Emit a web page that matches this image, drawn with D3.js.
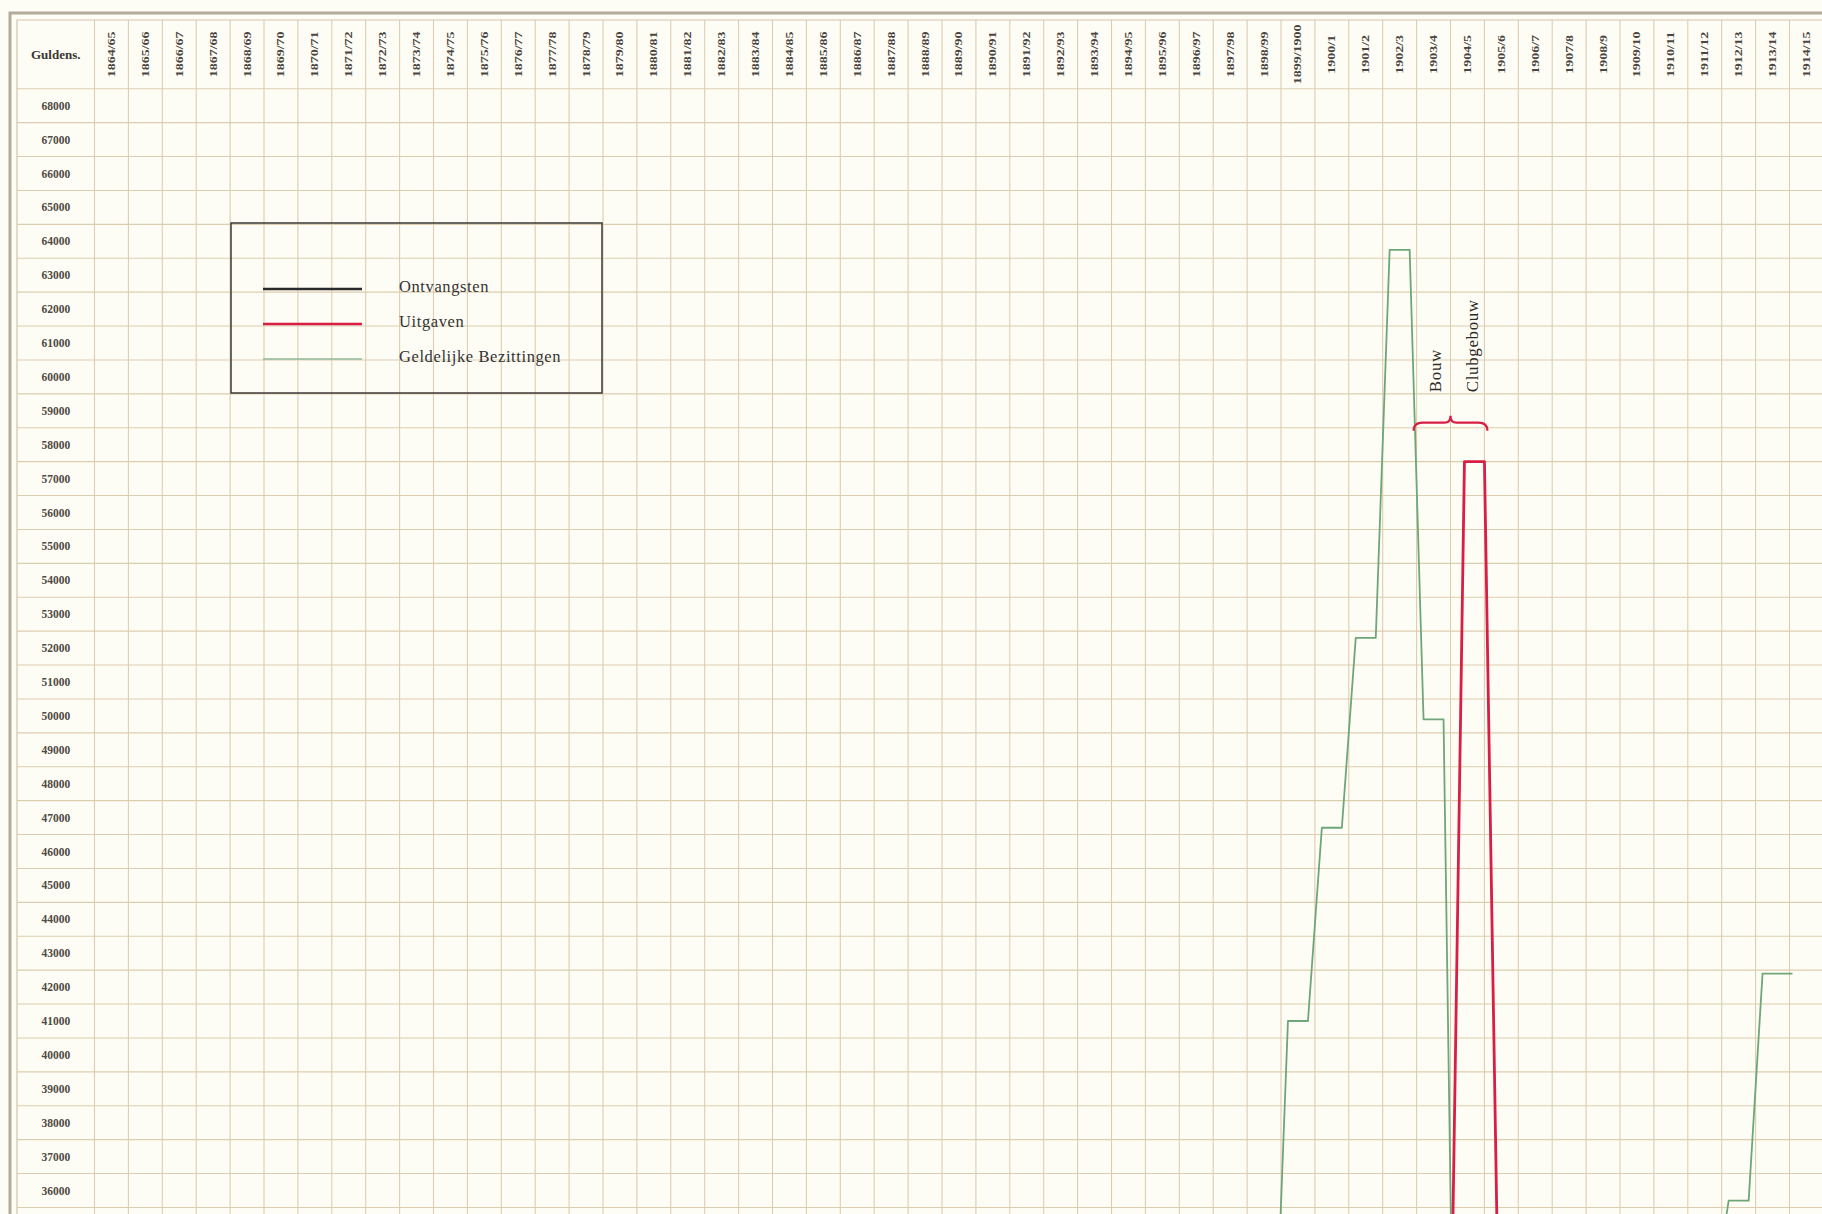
<!DOCTYPE html>
<html>
<head>
<meta charset="utf-8">
<script src="https://cdn.jsdelivr.net/npm/d3@7/dist/d3.min.js"></script>
<style>
	body { margin: 0; background: #fefdf5; }
	.chart svg { display: block; }
</style>
</head>
<body>
<div class="chart"></div>
<script>
// seasons across the top of the sheet
const seasons = [
	'1864/65','1865/66','1866/67','1867/68','1868/69','1869/70','1870/71','1871/72','1872/73','1873/74',
	'1874/75','1875/76','1876/77','1877/78','1878/79','1879/80','1880/81','1881/82','1882/83','1883/84',
	'1884/85','1885/86','1886/87','1887/88','1888/89','1889/90','1890/91','1891/92','1892/93','1893/94',
	'1894/95','1895/96','1896/97','1897/98','1898/99','1899/1900','1900/1','1901/2','1902/3','1903/4',
	'1904/5','1905/6','1906/7','1907/8','1908/9','1909/10','1910/11','1911/12','1912/13','1913/14',
	'1914/15'];

// guilder rows down the left side
const guldenTicks = [68000,67000,66000,65000,64000,63000,62000,61000,60000,59000,58000,57000,56000,
	55000,54000,53000,52000,51000,50000,49000,48000,47000,46000,45000,44000,43000,42000,41000,40000,
	39000,38000,37000,36000];

// tick labels as printed on the sheet
const guldenLabels = ['68000','67000','66000','65000','64000','63000','62000','61000','60000','59000',
	'58000','57000','56000','55000','54000','53000','52000','51000','50000','49000','48000','47000',
	'46000','45000','44000','43000','42000','41000','40000','39000','38000','37000','36000'];

// Ontvangsten: no part of this line reaches the visible part of the sheet
const ontvangsten = [];

// Uitgaven per season (null = not on this part of the sheet)
const uitgaven = [
	null,null,null,null,null,null,null,null,null,null,
	null,null,null,null,null,null,null,null,null,null,
	null,null,null,null,null,null,null,null,null,null,
	null,null,null,null,null,null,null,null,null,30500,
	57500,32500,null,null,null,null,null,null,null,null,
	null];

// Geldelijke Bezittingen per season
const bezittingen = [
	null,null,null,null,null,null,null,null,null,null,
	null,null,null,null,null,null,null,null,null,null,
	null,null,null,null,null,null,null,null,null,null,
	null,null,null,null,30200,41000,46700,52300,63750,49900,
	22000,null,null,null,null,null,null,33000,35700,42400,
	null];

const legendItems = ['Ontvangsten','Uitgaven','Geldelijke Bezittingen'];
const legendColors = ['#2a2a2a','#d81e45','#8fb898'];

const width = 1822;
const height = 1214;
const left = 94.5;		// edge between label column and plot
const cell = 33.9;

const svg = d3.select('.chart')
	.append('svg')
	.attr('width', width)
	.attr('height', height)
	.style('background', '#fefdf5');

const xScale = d3.scaleBand()
	.domain(seasons)
	.range([left, left + seasons.length*cell])
	.padding(0);

const yScale = d3.scaleLinear()
	.domain([68000, 36000])
	.range([105.7, 1190.5]);

const gridColor = '#dccdb0';
const headTop = 20;
const headBottom = yScale(68500);

//Grid: horizontal row edges (rows are centred on the labels)
const rowEdges = guldenTicks.map(d => d + 500).concat([35500, 34500]);
svg.append('g')
	.selectAll('line')
	.data(rowEdges)
	.enter()
	.append('line')
	.attr('x1', 17)
	.attr('x2', width)
	.attr('y1', d => yScale(d))
	.attr('y2', d => yScale(d))
	.attr('stroke', gridColor)
	.attr('stroke-width', 1.1);

//Grid: vertical column edges
const colEdges = seasons.map(d => xScale(d)).concat([xScale(seasons[seasons.length-1]) + xScale.bandwidth()]);
svg.append('g')
	.selectAll('line')
	.data(colEdges)
	.enter()
	.append('line')
	.attr('x1', d => d)
	.attr('x2', d => d)
	.attr('y1', headTop)
	.attr('y2', height)
	.attr('stroke', gridColor)
	.attr('stroke-width', 1.1);

//Frame
svg.append('path')
	.attr('d', `M10,${height}V13H${width}`)
	.attr('fill', 'none')
	.attr('stroke', '#b3aa99')
	.attr('stroke-width', 3);
svg.append('path')
	.attr('d', `M17,${height}V${headTop}H${width}`)
	.attr('fill', 'none')
	.attr('stroke', '#cfc5b2')
	.attr('stroke-width', 1.2);

//Header
svg.append('text')
	.attr('x', (17 + left)/2)
	.attr('y', (headTop + headBottom)/2)
	.attr('dy', '0.35em')
	.attr('text-anchor', 'middle')
	.attr('font-family', 'Liberation Serif, serif')
	.attr('font-weight', 'bold')
	.attr('font-size', '13px')
	.attr('fill', '#3b3631')
	.text('Guldens.');

svg.append('g')
	.selectAll('text')
	.data(seasons)
	.enter()
	.append('text')
	.attr('transform', d => `translate(${xScale(d) + xScale.bandwidth()/2},${(headTop + headBottom)/2}) rotate(-90) scale(1.4,1)`)
	.attr('dy', '0.35em')
	.attr('text-anchor', 'middle')
	.attr('font-family', 'Liberation Serif, serif')
	.attr('font-weight', 'bold')
	.attr('font-size', '10px')
	.attr('fill', '#4a4540')
	.text(d => d);

//Y labels
svg.append('g')
	.selectAll('text')
	.data(guldenTicks)
	.enter()
	.append('text')
	.attr('x', (17 + left)/2)
	.attr('y', d => yScale(d))
	.attr('dy', '0.35em')
	.attr('text-anchor', 'middle')
	.attr('font-family', 'Liberation Serif, serif')
	.attr('font-weight', 'bold')
	.attr('font-size', '11.5px')
	.attr('fill', '#4f4943')
	.text((d, i) => guldenLabels[i]);

//Lines: a short flat step in each season, slanted joins between
svg.append('clipPath')
	.attr('id', 'plot')
	.append('rect')
	.attr('x', left)
	.attr('y', headBottom)
	.attr('width', width - left)
	.attr('height', height - headBottom);

function steps(values, shift){
	const pts = [];
	seasons.forEach((s, i) => {
		const v = values[i];
		const c = xScale(s) + xScale.bandwidth()/2 + shift;
		const next = values[i+1];
		const end = (next == null) ? xScale(s) + xScale.bandwidth() + 3 : c + 10;
		pts.push({x: c - 10, v: v});
		pts.push({x: end, v: v});
	});
	return pts;
}

const line = d3.line()
	.defined(d => d.v != null)
	.x(d => d.x)
	.y(d => yScale(d.v));

const series = [
	{vals: ontvangsten, color: legendColors[0], w: 2.5, shift: 0},
	{vals: bezittingen, color: '#6ea67a', w: 1.8, shift: 0},
	{vals: uitgaven, color: legendColors[1], w: 2.8, shift: 7}
];

svg.append('g')
	.attr('clip-path', 'url(#plot)')
	.selectAll('path')
	.data(series)
	.enter()
	.append('path')
	.attr('d', d => line(steps(d.vals, d.shift)))
	.attr('fill', 'none')
	.attr('stroke', d => d.color)
	.attr('stroke-width', d => d.w)
	.attr('stroke-linejoin', 'round');

//Brace over the building years
const bx0 = xScale('1903/4') - 3;
const bx1 = xScale('1904/5') + xScale.bandwidth() + 3;
const bm = xScale('1904/5');
const bArm = yScale(58650);
const bTip = bArm - 7;
const bEnd = bArm + 8;
svg.append('path')
	.attr('d', `M${bx0},${bEnd}Q${bx0},${bArm} ${bx0+9},${bArm}L${bm-6},${bArm}Q${bm},${bArm} ${bm},${bTip}`
		+ `Q${bm},${bArm} ${bm+6},${bArm}L${bx1-9},${bArm}Q${bx1},${bArm} ${bx1},${bEnd}`)
	.attr('fill', 'none')
	.attr('stroke', '#d81e45')
	.attr('stroke-width', 2.2);

const notes = [{t: 'Bouw', s: '1903/4', dx: 1}, {t: 'Clubgebouw', s: '1904/5', dx: 5}];
svg.selectAll('.note')
	.data(notes)
	.enter()
	.append('text')
	.attr('class', 'note')
	.attr('transform', d => `translate(${xScale(d.s) + xScale.bandwidth()/2 + d.dx},${yScale(59550)}) rotate(-90)`)
	.attr('dy', '0.35em')
	.attr('font-family', 'Liberation Serif, serif')
	.attr('font-size', '17px')
	.attr('letter-spacing', '0.6px')
	.attr('fill', '#2e2b28')
	.text(d => d.t);

//Legend
svg.append('rect')
	.attr('x', 231)
	.attr('y', 223)
	.attr('width', 371)
	.attr('height', 170)
	.attr('fill', 'none')
	.attr('stroke', '#3a3835')
	.attr('stroke-width', 1.5);

svg.selectAll('.key')
	.data(legendItems)
	.enter()
	.append('line')
	.attr('class', 'key')
	.attr('x1', 263)
	.attr('x2', 362)
	.attr('y1', (d, i) => 289 + i*35)
	.attr('y2', (d, i) => 289 + i*35)
	.attr('stroke', (d, i) => legendColors[i])
	.attr('stroke-width', (d, i) => i == 2 ? 1.3 : 2.6);

svg.selectAll('.keylabel')
	.data(legendItems)
	.enter()
	.append('text')
	.attr('class', 'keylabel')
	.attr('x', 399)
	.attr('y', (d, i) => 286 + i*35)
	.attr('dy', '0.35em')
	.attr('font-family', 'Liberation Serif, serif')
	.attr('font-size', '16.5px')
	.attr('letter-spacing', '0.6px')
	.attr('fill', '#333')
	.text(d => d);
</script>
</body>
</html>
